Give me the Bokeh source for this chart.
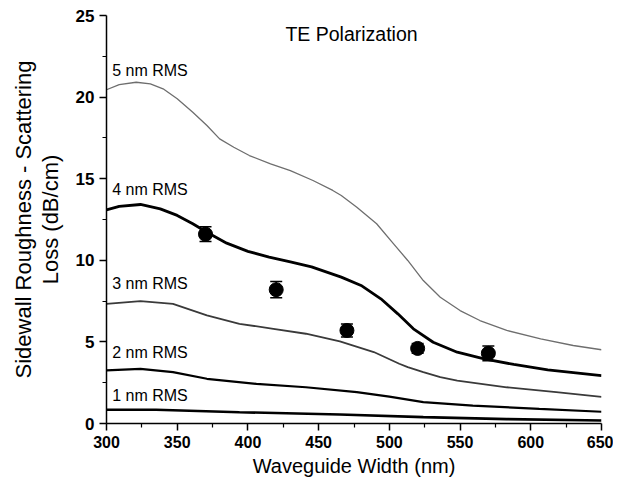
from bokeh.plotting import figure
from bokeh.models import ColumnDataSource, Whisker, TeeHead, Label, FixedTicker
from bokeh.embed import file_html
from bokeh.resources import INLINE

# ---- data ----
x_5nm = [300, 309, 321, 331, 340, 350, 361, 371, 380, 390, 401, 416, 430, 446, 460, 466, 477,
         491, 503, 513, 524, 536, 550, 564, 583, 607, 630, 650]
loss_5nm = [20.45, 20.77, 20.91, 20.81, 20.51, 19.9, 19.07, 18.26, 17.44, 16.93, 16.42, 15.91,
            15.5, 14.89, 14.28, 13.97, 13.25, 12.24, 11.01, 9.99, 8.76, 7.74, 6.92, 6.31, 5.7,
            5.19, 4.78, 4.52]

x_4nm = [300, 309, 324, 338, 350, 361, 371, 385, 400, 415, 430, 445, 466, 480, 494, 506, 517,
         531, 548, 567, 588, 612, 650]
loss_4nm = [13.09, 13.3, 13.42, 13.15, 12.75, 12.24, 11.72, 11.05, 10.55, 10.2, 9.9, 9.6, 8.97,
            8.46, 7.64, 6.72, 5.8, 4.98, 4.37, 3.96, 3.62, 3.29, 2.94]

x_3nm = [300, 324, 347, 371, 394, 418, 441, 465, 489, 507, 513, 524, 536, 548, 583, 618, 650]
loss_3nm = [7.33, 7.5, 7.33, 6.62, 6.11, 5.8, 5.5, 5.03, 4.38, 3.66, 3.45, 3.15, 2.84, 2.63,
            2.22, 1.92, 1.63]

x_2nm = [300, 324, 347, 371, 406, 441, 477, 500, 524, 559, 606, 650]
loss_2nm = [3.25, 3.35, 3.15, 2.74, 2.43, 2.22, 1.92, 1.65, 1.31, 1.1, 0.9, 0.72]

x_1nm = [300, 335, 394, 465, 524, 583, 650]
loss_1nm = [0.84, 0.84, 0.69, 0.55, 0.39, 0.27, 0.18]

meas_width = [370, 420, 470, 520, 570]
meas_loss = [11.6, 8.2, 5.7, 4.6, 4.3]
meas_err = [0.45, 0.5, 0.4, 0.3, 0.45]

curve_labels = ["5 nm RMS", "4 nm RMS", "3 nm RMS", "2 nm RMS", "1 nm RMS"]
label_y = [21.6, 14.35, 8.56, 4.37, 1.72]

x_ticks = [300, 350, 400, 450, 500, 550, 600, 650]
x_minor = [325, 375, 425, 475, 525, 575, 625]
y_ticks = [0, 5, 10, 15, 20, 25]
y_minor = [2.5, 7.5, 12.5, 17.5, 22.5]

FONT = "Liberation Sans"

p = figure(width=613, height=485, x_range=(300, 650), y_range=(0, 25),
           output_backend="svg", toolbar_location=None,
           min_border_left=106, min_border_right=12, min_border_top=15, min_border_bottom=62)
p.outline_line_color = None
p.xgrid.visible = False
p.ygrid.visible = False
p.background_fill_color = "white"
p.border_fill_color = "white"

for ax in (p.xaxis[0], p.yaxis[0]):
    ax.axis_line_width = 1.5
    ax.axis_line_color = "black"
    ax.major_tick_line_color = "black"
    ax.major_tick_line_width = 1.5
    ax.minor_tick_line_color = "black"
    ax.minor_tick_line_width = 1.2
    ax.major_tick_in = 0
    ax.major_tick_out = 7
    ax.minor_tick_in = 0
    ax.minor_tick_out = 4
    ax.major_label_text_font = FONT
    ax.major_label_text_font_style = "bold"
    ax.major_label_text_color = "black"
    ax.axis_label_text_font = FONT
    ax.axis_label_text_font_style = "normal"
    ax.axis_label_text_color = "black"

p.xaxis.major_label_text_font_size = "16px"
p.yaxis.major_label_text_font_size = "17px"
p.xaxis.axis_label_text_font_size = "20px"
p.yaxis.axis_label_text_font_size = "22px"
p.yaxis.axis_label_text_line_height = 1.05

p.xaxis.ticker = FixedTicker(ticks=x_ticks, minor_ticks=x_minor)
p.yaxis.ticker = FixedTicker(ticks=y_ticks, minor_ticks=y_minor)
p.xaxis.major_label_standoff = 5
p.yaxis.major_label_standoff = 5
p.xaxis.axis_label = "Waveguide Width (nm)"
p.yaxis.axis_label = "Sidewall Roughness - Scattering\nLoss (dB/cm)"
p.xaxis.axis_label_standoff = 4
p.yaxis.axis_label_standoff = 10

# model curves
p.line(x_5nm, loss_5nm, line_color="#6e6e6e", line_width=1.3)
p.line(x_4nm, loss_4nm, line_color="black", line_width=2.8)
p.line(x_3nm, loss_3nm, line_color="#3a3a3a", line_width=1.8)
p.line(x_2nm, loss_2nm, line_color="black", line_width=2.2)
p.line(x_1nm, loss_1nm, line_color="black", line_width=2.6)

# measured points
src = ColumnDataSource(dict(
    x=meas_width, y=meas_loss,
    upper=[v + e for v, e in zip(meas_loss, meas_err)],
    lower=[v - e for v, e in zip(meas_loss, meas_err)],
))
w = Whisker(source=src, base="x", upper="upper", lower="lower",
            line_color="black", line_width=1.5,
            upper_head=TeeHead(size=12, line_color="black", line_width=1.5),
            lower_head=TeeHead(size=12, line_color="black", line_width=1.5))
p.add_layout(w)
p.scatter("x", "y", source=src, size=14, marker="circle", fill_color="black", line_color="black")

for txt, yy in zip(curve_labels, label_y):
    p.add_layout(Label(x=304, y=yy, text=txt, text_font=FONT, text_font_size="16px",
                       text_color="black", text_baseline="middle", text_align="left"))

p.add_layout(Label(x=426.5, y=23.88, text="TE Polarization", text_font=FONT,
                   text_font_size="19.5px", text_color="black",
                   text_baseline="middle", text_align="left"))

open("out.html", "w").write(file_html(p, INLINE))
